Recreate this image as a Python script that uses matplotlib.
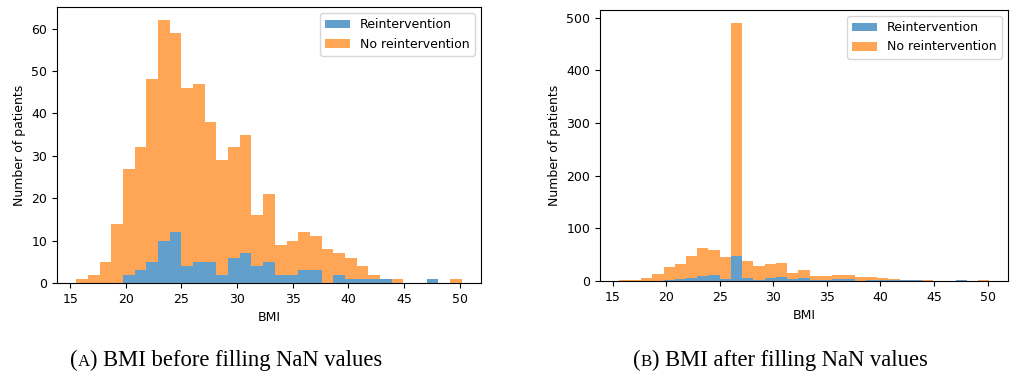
import numpy as np
import matplotlib
matplotlib.use('Agg')
import matplotlib.pyplot as plt

# BMI histogram, 33 bins over the observed range
BMI_MIN, BMI_MAX, N_BINS = 15.55, 50.17, 33

# counts per bin, before filling NaN
reint_before = [0, 0, 0, 0, 2, 3, 5, 10, 12, 4, 5, 5, 2, 6, 7, 4, 5,
                2, 2, 3, 3, 0, 2, 1, 1, 1, 1, 0, 0, 0, 1, 0, 0]
noreint_before = [1, 2, 5, 14, 25, 29, 43, 52, 47, 42, 42, 33, 27, 26, 28, 12, 16,
                  7, 8, 9, 8, 8, 5, 5, 3, 1, 0, 1, 0, 0, 0, 0, 1]

# after filling NaN: the missing values all land in the median bin
reint_after = [0, 0, 0, 0, 2, 3, 5, 10, 12, 4, 48, 5, 2, 6, 7, 4, 5,
               2, 2, 3, 3, 0, 2, 1, 1, 1, 1, 0, 0, 0, 1, 0, 0]
noreint_after = [1, 2, 5, 14, 25, 29, 43, 52, 47, 42, 442, 33, 27, 26, 28, 12, 16,
                 7, 8, 9, 8, 8, 5, 5, 3, 1, 0, 1, 0, 0, 0, 0, 1]

LABELS = ['Reintervention', 'No reintervention']

W, H = 1011, 376
fig = plt.figure(figsize=(W / 100, H / 100), dpi=100)

edges = np.linspace(BMI_MIN, BMI_MAX, N_BINS + 1)
centers = (edges[:-1] + edges[1:]) / 2


def px_axes(left, top, right, bottom):
    return fig.add_axes([left / W, 1 - bottom / H, (right - left) / W, (bottom - top) / H])


def draw_hist(ax, reint, noreint):
    ax.hist([centers, centers], bins=edges, weights=[reint, noreint],
            stacked=True, alpha=0.7, label=LABELS)
    ax.set_xticks([15, 20, 25, 30, 35, 40, 45, 50])
    ax.set_xlabel('BMI', fontsize=9)
    ax.set_ylabel('Number of patients', fontsize=9)
    ax.tick_params(labelsize=9)
    ax.legend(loc='upper right', fontsize=9)


ax1 = px_axes(57, 7, 481, 283)
draw_hist(ax1, reint_before, noreint_before)

ax2 = px_axes(600, 10, 1008, 281)
draw_hist(ax2, reint_after, noreint_after)


# captions with a small-caps letter
def caption(xc, y_base, letter, rest, size=16.3):
    renderer = fig.canvas.get_renderer()
    parts = [('(', size), (letter, size * 0.75), (') ' + rest, size)]
    texts = [fig.text(0, 1 - y_base / H, s, fontsize=fs, family='Liberation Serif',
                      va='baseline') for s, fs in parts]
    widths = [t.get_window_extent(renderer).width for t in texts]
    x = xc - sum(widths) / 2
    for t, w in zip(texts, widths):
        t.set_x(x / W)
        x += w


caption(226, 366, 'A', 'BMI before filling NaN values')
caption(780, 366, 'B', 'BMI after filling NaN values')

fig.savefig('out.png', dpi=100)
